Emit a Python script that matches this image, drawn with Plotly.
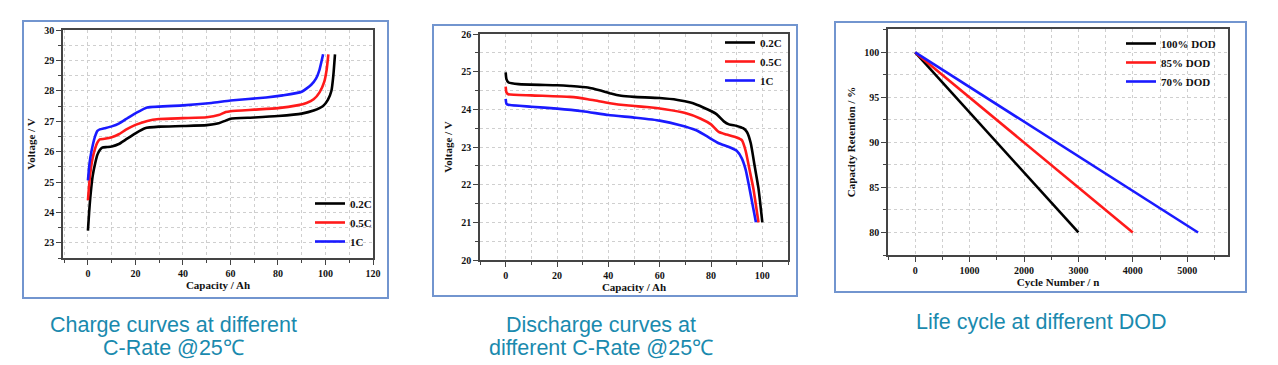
import plotly.graph_objects as go

# ---------------- data ----------------
series_names = ["0.2C", "0.5C", "1C"]
dod_names = ["100% DOD", "85% DOD", "70% DOD"]
series_colors = ["#000000", "#ff1a1a", "#1a1aff"]

# Charge curves (Capacity / Ah, Voltage / V)
charge_cap_02 = [0, 0.5, 1, 2, 3, 4, 5, 6, 8, 10, 13, 16, 20, 24, 30, 40, 50, 55, 58, 60, 70, 80, 90, 95, 99, 101, 102.5, 103.3, 104]
charge_v_02 = [23.4, 24.0, 24.5, 25.2, 25.6, 25.9, 26.05, 26.13, 26.15, 26.17, 26.25, 26.4, 26.6, 26.77, 26.82, 26.84, 26.87, 26.93, 27.02, 27.08, 27.12, 27.17, 27.25, 27.35, 27.5, 27.7, 28.0, 28.5, 29.2]
charge_cap_05 = [0, 0.5, 1, 2, 3, 4, 5, 7, 10, 13, 16, 20, 25, 30, 40, 50, 55, 58, 60, 70, 80, 88, 92, 95, 97.5, 99.5, 100.5, 101.2]
charge_v_05 = [24.4, 24.9, 25.3, 25.8, 26.1, 26.3, 26.4, 26.42, 26.47, 26.57, 26.72, 26.88, 27.01, 27.07, 27.1, 27.13, 27.2, 27.3, 27.33, 27.38, 27.43, 27.52, 27.6, 27.72, 27.95, 28.3, 28.7, 29.2]
charge_cap_1 = [0, 0.5, 1, 2, 3, 4, 5, 7, 10, 13, 17, 20, 25, 40, 52, 60, 75, 82, 90, 94, 96, 97.5, 99]
charge_v_1 = [25.05, 25.5, 25.8, 26.2, 26.5, 26.68, 26.73, 26.77, 26.83, 26.92, 27.12, 27.26, 27.45, 27.52, 27.6, 27.68, 27.78, 27.85, 27.97, 28.2, 28.4, 28.7, 29.2]

# Discharge curves
disc_cap_02 = [0, 0.3, 1, 5, 20, 25, 32, 37, 41, 45, 50, 60, 67, 72, 77, 82, 85, 87, 90, 92.5, 94, 95.5, 97, 98.5, 100]
disc_v_02 = [24.98, 24.8, 24.72, 24.67, 24.64, 24.62, 24.58, 24.5, 24.42, 24.36, 24.33, 24.3, 24.25, 24.18, 24.05, 23.88, 23.68, 23.6, 23.56, 23.5, 23.4, 23.1, 22.5, 21.9, 21.0]
disc_cap_05 = [0, 0.3, 1, 10, 25, 32, 36, 40, 48, 55, 62, 70, 76, 80, 83, 86, 90, 92, 93.5, 95, 96.5, 98.5]
disc_v_05 = [24.6, 24.45, 24.4, 24.37, 24.33, 24.27, 24.22, 24.17, 24.1, 24.06, 24.0, 23.9, 23.75, 23.6, 23.4, 23.33, 23.25, 23.18, 22.9, 22.4, 21.9, 21.0]
disc_cap_1 = [0, 0.3, 1, 10, 20, 30, 40, 50, 60, 68, 74, 78, 83, 87, 90, 92, 93.5, 95, 97.5]
disc_v_1 = [24.28, 24.15, 24.12, 24.07, 24.02, 23.95, 23.85, 23.78, 23.7, 23.58, 23.45, 23.3, 23.1, 23.0, 22.9, 22.7, 22.4, 21.9, 21.0]

# Life cycle (Cycle Number / n, Capacity Retention / %)
cycles_100 = [0, 3000]
retention_100 = [100, 80]
cycles_85 = [0, 4000]
retention_85 = [100, 80]
cycles_70 = [0, 5200]
retention_70 = [100, 80]

captions = [
    ["Charge curves at different", "C-Rate @25\u2103"],
    ["Discharge curves at", "different C-Rate @25\u2103"],
    ["Life cycle at different DOD"],
]

# ---------------- layout helpers ----------------
OFF = 8                    # page body margin
W, H = 1270, 357           # figure size so the page fits the 1278x365 window
def fx(p):
    return (p - OFF) / W
def fy(p):
    return 1 - (p - OFF) / H

SERIF = "Liberation Serif"
AXC = "#444444"
GRID = "#cfcfcf"

def axis(rng, dtick, mdtick, title, standoff, domain):
    return dict(
        domain=domain, range=rng, dtick=dtick, tick0=0, automargin=False,
        showline=True, linecolor=AXC, linewidth=1.5, mirror=True,
        ticks="outside", ticklen=5, tickwidth=1.2, tickcolor=AXC,
        showgrid=True, gridcolor=GRID, griddash="dot", gridwidth=1,
        zeroline=False,
        minor=dict(dtick=mdtick, tick0=0, ticks="outside", ticklen=3, tickwidth=1,
                   tickcolor=AXC, showgrid=True, gridcolor=GRID, griddash="dot"),
        tickfont=dict(family=SERIF, size=10, color="#111111", weight="bold"),
        title=dict(text=title, standoff=standoff,
                   font=dict(family=SERIF, size=11, color="#111111", weight="bold")),
    )

fig = go.Figure()

charge = [(charge_cap_02, charge_v_02), (charge_cap_05, charge_v_05), (charge_cap_1, charge_v_1)]
disc = [(disc_cap_02, disc_v_02), (disc_cap_05, disc_v_05), (disc_cap_1, disc_v_1)]
life = [(cycles_100, retention_100), (cycles_85, retention_85), (cycles_70, retention_70)]

for i, (x, y) in enumerate(charge):
    fig.add_trace(go.Scatter(x=x, y=y, mode="lines", name=series_names[i],
                             line=dict(color=series_colors[i], width=2.6, shape="spline", smoothing=0.5),
                             xaxis="x", yaxis="y", legend="legend"))
for i, (x, y) in enumerate(disc):
    fig.add_trace(go.Scatter(x=x, y=y, mode="lines", name=series_names[i],
                             line=dict(color=series_colors[i], width=2.6, shape="spline", smoothing=0.5),
                             xaxis="x2", yaxis="y2", legend="legend2"))
for i, (x, y) in enumerate(life):
    fig.add_trace(go.Scatter(x=x, y=y, mode="lines", name=dod_names[i],
                             line=dict(color=series_colors[i], width=2.6),
                             xaxis="x3", yaxis="y3", legend="legend3"))

leg_font = dict(family=SERIF, size=11, color="#111111", weight="bold")
def legend(x, y):
    return dict(x=x, y=y, xanchor="left", yanchor="top", bgcolor="rgba(0,0,0,0)",
                font=leg_font, itemwidth=30, tracegroupgap=0, borderwidth=0)

fig.update_layout(
    width=W, height=H, autosize=False,
    margin=dict(l=0, r=0, t=0, b=0, autoexpand=False),
    paper_bgcolor="white", plot_bgcolor="white",
    showlegend=True,
    xaxis=axis([-10.5, 120], 20, 10, "Capacity / Ah", 4, [fx(63), fx(373)]),
    yaxis=axis([22.5, 30], 1, 0.5, "Voltage / V", 6, [fy(258), fy(30)]),
    xaxis2=axis([-10, 110], 20, 10, "Capacity / Ah", 4, [fx(480), fx(788)]),
    yaxis2=axis([20, 26], 1, 0.5, "Voltage / V", 6, [fy(260), fy(34)]),
    xaxis3=axis([-500, 5750], 1000, 500, "Cycle Number / n", 2, [fx(888), fx(1228)]),
    yaxis3=axis([77.5, 102.6], 5, 2.5, "Capacity Retention / %", 6, [fy(255), fy(29)]),
    legend=legend(fx(310), fy(189)),
    legend2=legend(fx(720), fy(28)),
    legend3=legend(fx(1121), fy(29)),
)
fig.layout.xaxis2.anchor = "y2"
fig.layout.yaxis2.anchor = "x2"
fig.layout.xaxis3.anchor = "y3"
fig.layout.yaxis3.anchor = "x3"

# panel frames
for (x0, y0, x1, y1) in [(23, 21, 388, 298), (433, 25, 797, 296), (835, 22, 1246, 292)]:
    fig.add_shape(type="rect", xref="paper", yref="paper",
                  x0=fx(x0), x1=fx(x1), y0=fy(y1), y1=fy(y0),
                  line=dict(color="#7295cf", width=2), fillcolor="rgba(0,0,0,0)")

# captions
cap_font = dict(family="Liberation Sans", size=21.5, color="#1a8aae")
cap_pos = [(173.5, [325, 348]), (601, [325, 348]), (1041, [322])]
for lines, (cx, ys) in zip(captions, cap_pos):
    for text, yy in zip(lines, ys):
        fig.add_annotation(text=text, xref="paper", yref="paper", x=fx(cx), y=fy(yy),
                           xanchor="center", yanchor="middle", showarrow=False, font=cap_font)

fig.write_html("out.html")
